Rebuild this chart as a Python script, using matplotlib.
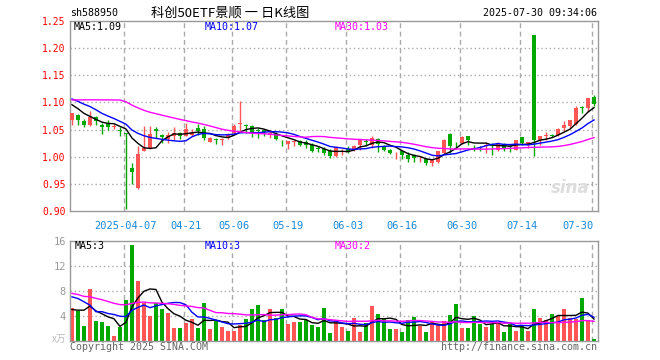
import pandas as pd
import matplotlib
matplotlib.use('Agg')
import matplotlib.pyplot as plt

# 588950 daily candles, 2025-03-24 .. 2025-07-30
opens = [1.068, 1.0775, 1.066, 1.059, 1.0726, 1.0584, 1.062, 1.054, 1.050, 1.043,
         0.980, 0.942, 1.011, 1.016, 1.051, 1.0406, 1.0326, 1.039, 1.0437, 1.039,
         1.0406, 1.053, 1.051, 1.028, 1.0326, 1.0314, 1.0345, 1.0437, 1.060, 1.0578,
         1.057, 1.0486, 1.0486, 1.041, 1.0424, 1.0258, 1.0234, 1.0265, 1.0283, 1.027,
         1.022, 1.0154, 1.014, 1.0098, 1.002, 1.0098, 1.015, 1.0117, 1.021, 1.029,
         1.022, 1.0326, 1.019, 1.013, 1.008, 1.0098, 1.004, 1.0024, 0.995, 0.9957,
         0.988, 0.9895, 1.0068, 1.0424, 1.022, 1.025, 1.0387, 1.0203, 1.020, 1.019,
         1.022, 1.013, 1.024, 1.019, 1.013, 1.0363, 1.023, 1.225, 1.0314, 1.0375,
         1.0406, 1.040, 1.053, 1.056, 1.061, 1.091, 1.0898, 1.110]
highs = [1.080, 1.079, 1.070, 1.0836, 1.0745, 1.062, 1.068, 1.060, 1.054, 1.044,
         0.988, 1.019, 1.057, 1.057, 1.055, 1.0418, 1.045, 1.054, 1.045, 1.062,
         1.051, 1.060, 1.057, 1.036, 1.034, 1.034, 1.0437, 1.061, 1.102, 1.0597,
         1.058, 1.053, 1.0517, 1.050, 1.045, 1.0314, 1.029, 1.0314, 1.030, 1.0314,
         1.025, 1.019, 1.0178, 1.014, 1.020, 1.014, 1.019, 1.021, 1.033, 1.0326,
         1.0375, 1.034, 1.022, 1.014, 1.0095, 1.011, 1.008, 1.005, 1.0018, 0.997,
         0.9955, 1.011, 1.0326, 1.0437, 1.028, 1.0387, 1.039, 1.021, 1.0205, 1.028,
         1.025, 1.0265, 1.025, 1.022, 1.0314, 1.037, 1.028, 1.225, 1.039, 1.045,
         1.0424, 1.052, 1.065, 1.068, 1.094, 1.094, 1.109, 1.1144]
lows = [1.058, 1.058, 1.055, 1.056, 1.058, 1.042, 1.050, 1.051, 1.039, 0.903,
        0.9496, 0.940, 1.0098, 1.0148, 1.0345, 1.025, 1.025, 1.030, 1.0326, 1.0375,
        1.039, 1.0406, 1.0314, 1.0265, 1.0234, 1.022, 1.0326, 1.0406, 1.045, 1.0437,
        1.036, 1.0345, 1.0387, 1.0345, 1.030, 1.019, 1.014, 1.020, 1.019, 1.016,
        1.008, 1.008, 1.0037, 0.997, 0.999, 1.0037, 1.006, 1.0098, 1.013, 1.019,
        1.016, 1.0086, 1.0098, 1.005, 0.996, 0.996, 0.990, 0.9895, 0.9908, 0.985,
        0.9834, 0.988, 1.0055, 1.0068, 1.016, 1.024, 1.022, 1.0098, 1.011, 1.0068,
        1.004, 1.0098, 1.0098, 1.008, 1.0117, 1.022, 1.016, 1.0006, 1.022, 1.030,
        1.0363, 1.0375, 1.0467, 1.053, 1.059, 1.0806, 1.0817, 1.093]
closes = [1.080, 1.067, 1.059, 1.0726, 1.065, 1.055, 1.055, 1.0566, 1.048, 1.041,
          0.9717, 1.0055, 1.016, 1.0424, 1.0467, 1.037, 1.0406, 1.0437, 1.0387, 1.0517,
          1.045, 1.048, 1.035, 1.035, 1.0314, 1.0332, 1.042, 1.056, 1.062, 1.0566,
          1.044, 1.0467, 1.045, 1.0437, 1.0326, 1.0246, 1.0283, 1.0283, 1.022, 1.022,
          1.0098, 1.0135, 1.0068, 1.0006, 1.018, 1.011, 1.011, 1.0203, 1.030, 1.0277,
          1.0345, 1.024, 1.013, 1.0068, 1.009, 1.0037, 0.996, 0.997, 0.9963, 0.988,
          0.9945, 1.0098, 1.0314, 1.0203, 1.021, 1.0363, 1.030, 1.019, 1.019, 1.021,
          1.019, 1.025, 1.016, 1.0172, 1.030, 1.025, 1.027, 1.0314, 1.0387, 1.0393,
          1.0387, 1.051, 1.0578, 1.067, 1.0898, 1.089, 1.108, 1.0978]
# volume in 万
volume = [5.28, 4.8, 2.35, 8.27, 3.2, 3.0, 2.35, 0.75, 2.2, 6.5,
          15.3, 9.6, 6.1, 4.0, 6.1, 5.07, 4.43, 2.03, 2.03, 2.83,
          3.47, 2.03, 6.03, 1.87, 3.15, 2.24, 1.6, 1.6, 2.56, 3.47,
          5.07, 5.65, 3.3, 5.07, 3.63, 5.07, 2.67, 2.99, 2.99, 3.3,
          2.5, 2.19, 5.2, 1.2, 3.2, 2.19, 1.55, 3.63, 1.39, 2.83,
          5.55, 4.27, 3.57, 1.87, 1.87, 1.39, 3.3, 3.79, 2.35, 1.39,
          3.15, 2.5, 3.15, 4.1, 5.87, 2.03, 2.03, 3.95, 2.67, 2.19,
          2.67, 2.99, 1.39, 2.67, 1.55, 2.5, 1.55, 5.07, 3.63, 3.3,
          4.27, 3.95, 5.07, 3.63, 3.47, 6.83, 3.15, 0.27]

# days before the window, estimated from where the MA lines start
prev_close = [1.062, 1.058, 1.070, 1.066, 1.058, 1.056, 1.060, 1.050,
              1.140, 1.155, 1.160, 1.150, 1.150,
              1.125, 1.120, 1.118, 1.122, 1.115, 1.120, 1.118,
              1.110, 1.112, 1.115, 1.125, 1.122, 1.104, 1.102, 1.100, 1.093]
prev_vol = [10.2, 11.5, 9.8, 11.1, 9.5, 10.8, 9.8, 8.2, 7.5, 8.3,
            4.6, 5.1, 7.5, 6.8, 6.9, 6.2, 5.5, 6.3, 5.8, 6.0,
            7.5, 7.6, 13.7, 13.8, 2.8, 5.3, 2.33, 5.02, 7.05]

tick_idx = [9, 19, 27, 36, 46, 55, 65, 75, 87]
tick_lab = ['2025-04-07', '04-21', '05-06', '05-19', '06-03', '06-16', '06-30', '07-14', '07-30']
price_ticks = [0.90, 0.95, 1.00, 1.05, 1.10, 1.15, 1.20, 1.25]
vol_ticks = [4, 8, 12, 16]
price_ma_text = ['MA5:1.09', 'MA10:1.07', 'MA30:1.03']
vol_ma_text = ['MA5:3', 'MA10:3', 'MA30:2']

RED = '#ff5555'
GREEN = '#00a800'
GRID = '#aaaaaa'
ma_colors = ['black', '#0000ff', '#ff00ff']
mono = 'DejaVu Sans Mono'
plt.rcParams['font.family'] = [mono]

n = len(closes)
x = list(range(n))
up = [c >= o for o, c in zip(opens, closes)]
cols = [RED if u else GREEN for u in up]

c_all = pd.Series(prev_close + closes)
v_all = pd.Series(prev_vol + volume)
k = len(prev_close)
price_ma = [c_all.rolling(w).mean().iloc[k:].values for w in (5, 10, 30)]
vol_ma = [v_all.rolling(w).mean().iloc[k:].values for w in (5, 10, 30)]

W, H = 660, 360
fig = plt.figure(figsize=(6.6, 3.6), dpi=100)
ax = fig.add_axes([70 / W, 1 - 211 / H, 528 / W, 190 / H])
axv = fig.add_axes([70 / W, 1 - 340.7 / H, 528 / W, 99.7 / H])

for a in (ax, axv):
    a.set_xlim(-0.33, n - 0.33)
    for s in a.spines.values():
        s.set_color('#999999')
        s.set_linewidth(1)
    for t in tick_idx:
        a.axvline(t - 0.3, color=GRID, lw=1, ls=(0, (3.5, 2.5)), zorder=0)

ax.set_ylim(0.90, 1.25)
for p in price_ticks[1:-1]:
    ax.axhline(p, color=GRID, lw=1, ls=(0, (1, 2)), zorder=0)
ax.set_yticks(price_ticks)
ax.set_yticklabels(['%.2f' % p for p in price_ticks])
ax.tick_params(axis='y', length=0, pad=3, labelcolor='#ff0000', labelsize=7)
ax.set_xticks(tick_idx)
ax.set_xticklabels(tick_lab)
ax.tick_params(axis='x', length=0, pad=7, labelcolor='#1a88d8', labelsize=7.5)
ax.get_xticklabels()[-1].set_ha('right')

# candles
body = [max(abs(c - o), 0.0012) for o, c in zip(opens, closes)]
bottom = [min(o, c) for o, c in zip(opens, closes)]
ax.vlines(x, lows, highs, colors=cols, lw=1, zorder=2)
ax.bar(x, body, bottom=bottom, width=0.82, color=cols, linewidth=0, zorder=3)
for m, c in zip(price_ma, ma_colors):
    ax.plot(x, m, color=c, lw=1, zorder=4)

ax.text(0.985, 0.12, 'sina', transform=ax.transAxes, ha='right', va='center',
        fontsize=12, fontstyle='italic', fontweight='bold', color='#dddddd',
        family='DejaVu Sans', zorder=1)

# volume
axv.set_ylim(0, 16)
for v in vol_ticks[:-1]:
    axv.axhline(v, color=GRID, lw=1, ls=(0, (1, 2)), zorder=0)
axv.set_yticks(vol_ticks)
axv.set_yticklabels([str(v) for v in vol_ticks])
axv.tick_params(axis='y', length=0, pad=3, labelcolor='#999999', labelsize=7.5)
axv.set_xticks([])
axv.bar(x, volume, width=0.82, color=cols, linewidth=0, zorder=2)
for m, c in zip(vol_ma, ma_colors):
    axv.plot(x, m, color=c, lw=1, zorder=3)


def ftext(px, py, s, **kw):
    fig.text(px / W, 1 - py / H, s, va='center', **kw)


ftext(70, 13, 'sh588950', fontsize=7.2, color='black')
ftext(230, 13, '科创50ETF景顺 一 日K线图', ha='center', fontsize=9.5, color='black',
      family=['Noto Sans CJK SC', mono])
ftext(597, 13, '2025-07-30 09:34:06', ha='right', fontsize=7.2, color='black')
for px, s, c in zip([74, 205, 335], price_ma_text, ma_colors):
    ftext(px, 27, s, fontsize=7.2, color=c)
for px, s, c in zip([75, 205, 335], vol_ma_text, ma_colors):
    ftext(px, 246, s, fontsize=7.2, color=c)
ftext(66, 339, 'x万', ha='right', fontsize=7, color='#bbbbbb',
      family=['Noto Sans CJK SC', mono])
ftext(70, 347, 'Copyright 2025 SINA.COM', fontsize=7.2, color='#666666')
ftext(597, 347, 'http://finance.sina.com.cn', ha='right', fontsize=7.2, color='#666666')

fig.savefig('out.png', dpi=100, facecolor='white')
